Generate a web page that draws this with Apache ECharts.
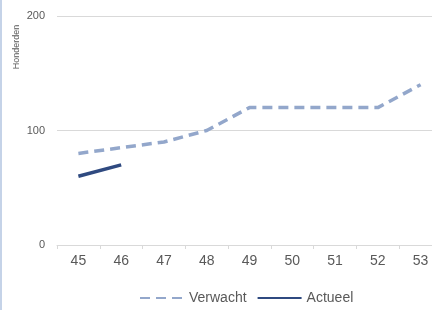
<!DOCTYPE html>
<html><head><meta charset="utf-8">
<script src="https://cdn.jsdelivr.net/npm/echarts@6/dist/echarts.min.js"></script>
<style>html,body{margin:0;padding:0;background:#fff}#c{width:432px;height:310px;box-sizing:border-box;border-left:2px solid #c5d3e8}</style>
</head><body><div id="c"></div>
<script>
const categories = ['45','46','47','48','49','50','51','52','53'];
const verwacht = [80, 85, 90, 100, 120, 120, 120, 120, 140];
const actueel = [60, 70, null, null, null, null, null, null, null];
const yTicks = [0, 100, 200];
const chart = echarts.init(document.getElementById('c'), null, {renderer:'canvas'});
chart.setOption({
  animation:false,
  grid:{left:55, top:16, bottom:65, width:385, outerBoundsMode:'none', containLabel:false},
  xAxis:{type:'category', data:categories, boundaryGap:true,
    axisLine:{lineStyle:{color:'#d9d9d9'}},
    axisTick:{show:true, length:4, lineStyle:{color:'#d9d9d9'}},
    axisLabel:{color:'#595959', fontSize:14, fontFamily:'Liberation Sans', margin:9}},
  yAxis:{type:'value', min:yTicks[0], max:yTicks[2], interval:100,
    axisLabel:{color:'#595959', fontSize:11, fontFamily:'Liberation Sans', margin:12},
    splitLine:{lineStyle:{color:'#d9d9d9'}}, axisLine:{show:false}, axisTick:{show:false}},
  graphic:[{type:'text', x:15, y:47, rotation:Math.PI/2,
    style:{text:'Honderden', fill:'#595959', fontSize:9, fontFamily:'Liberation Sans', align:'center', verticalAlign:'middle'}}],
  legend:{bottom:0, left:132, itemWidth:44, itemHeight:4, itemGap:10,
    itemStyle:{opacity:0},
    textStyle:{color:'#595959', fontSize:14, fontFamily:'Liberation Sans'}},
  series:[
    {name:'Verwacht', type:'line', data:verwacht, symbol:'none',
      lineStyle:{color:'#93a7cb', width:3.5, type:[10,6]}, itemStyle:{color:'#93a7cb'}},
    {name:'Actueel', type:'line', data:actueel, symbol:'none',
      lineStyle:{color:'#2f4a80', width:3.5}, itemStyle:{color:'#2f4a80'}}
  ]
});
</script></body></html>
